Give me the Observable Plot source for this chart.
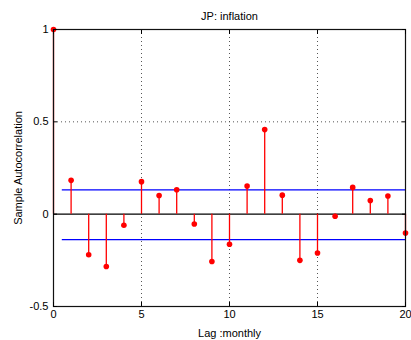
<!DOCTYPE html>
<html>
<head>
<meta charset="utf-8">
<script src="https://cdn.jsdelivr.net/npm/d3@7"></script>
<script src="https://cdn.jsdelivr.net/npm/@observablehq/plot@0.6"></script>
<style>
  html, body { margin: 0; padding: 0; background: #fff; }
</style>
</head>
<body>
<div id="chart"></div>
<script>
const lags = [0,1,2,3,4,5,6,7,8,9,10,11,12,13,14,15,16,17,18,19,20];
const acf = [1, 0.183, -0.220, -0.283, -0.060, 0.176, 0.101, 0.132, -0.053, -0.256, -0.163,
             0.152, 0.458, 0.103, -0.250, -0.210, -0.011, 0.145, 0.074, 0.098, -0.102];
const bounds = [0.132, -0.138];
const boundStartLag = 0.5;
const xTicks = [0, 5, 10, 15, 20];
const yTicks = [-0.5, 0, 0.5, 1];
const title = "JP: inflation";
const xLabel = "Lag :monthly";
const yLabel = "Sample Autocorrelation";

const data = lags.map((l, i) => ({lag: l, acf: acf[i]}));
const fmt = d => String(d);

const chart = Plot.plot({
  width: 411,
  height: 340,
  marginLeft: 53,
  marginRight: 6,
  marginTop: 29,
  marginBottom: 34,
  style: {fontFamily: "'Liberation Sans', Arial, Helvetica, sans-serif", fontSize: "11px", background: "#fff"},
  x: {domain: [0, 20]},
  y: {domain: [-0.5, 1]},
  marks: [
    Plot.gridX([5, 10, 15], {stroke: "#444", strokeOpacity: 0.9, strokeDasharray: "1,3"}),
    Plot.gridY([0.5], {stroke: "#444", strokeOpacity: 0.9, strokeDasharray: "1,3"}),
    Plot.ruleY(bounds, {x1: boundStartLag, x2: 20, stroke: "#0000ff", strokeWidth: 1.2}),
    Plot.ruleY([0], {stroke: "#000", strokeWidth: 1.2}),
    Plot.ruleX(data, {x: "lag", y1: 0, y2: "acf", stroke: "#ff0000", strokeWidth: 1.3}),
    Plot.dot(data, {x: "lag", y: "acf", r: 2.8, fill: "#ff0000", stroke: "none"}),
    Plot.frame({stroke: "#111", strokeWidth: 1.2}),
    Plot.axisX(xTicks, {anchor: "bottom", tickSize: -4, tickPadding: 8, tickFormat: fmt,
      label: xLabel, labelAnchor: "center", labelArrow: "none", labelOffset: 30, fill: "#000", stroke: "#000"}),
    Plot.axisX(xTicks, {anchor: "top", tickSize: -4, fill: "none", stroke: "#000", label: null}),
    Plot.axisY(yTicks, {anchor: "left", tickSize: -4, tickPadding: 9, tickFormat: fmt,
      label: yLabel, labelAnchor: "center", labelArrow: "none", labelOffset: 39, fill: "#000", stroke: "#000"}),
    Plot.axisY(yTicks, {anchor: "right", tickSize: -4, fill: "none", stroke: "#000", label: null}),
    Plot.text([title], {frameAnchor: "top", dy: -10, lineAnchor: "bottom", fill: "#000", fontSize: 11})
  ]
});
document.getElementById("chart").appendChild(chart);
</script>
</body>
</html>
